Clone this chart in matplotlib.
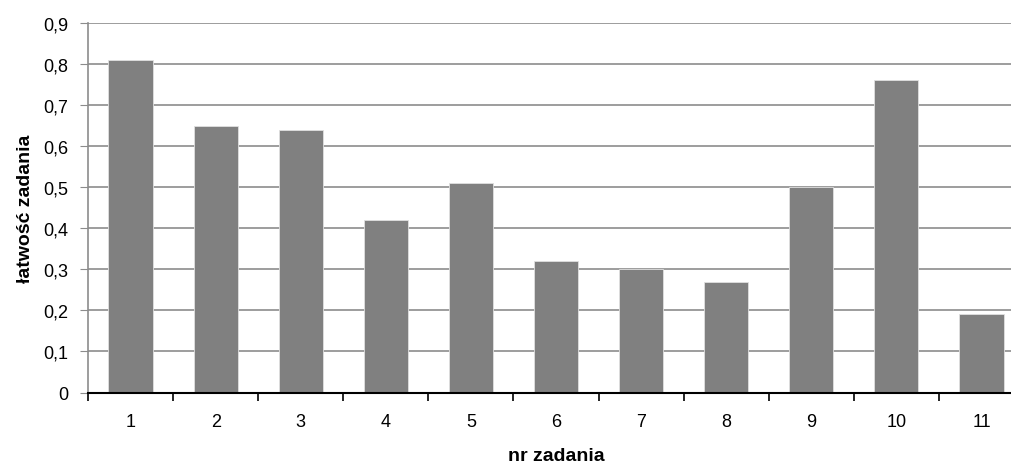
import matplotlib.pyplot as plt
from matplotlib.ticker import FixedLocator

plt.rcParams['font.family'] = ['Liberation Sans', 'DejaVu Sans']

zadania = ["1", "2", "3", "4", "5", "6", "7", "8", "9", "10", "11"]
latwosc = [0.81, 0.65, 0.64, 0.42, 0.51, 0.32, 0.30, 0.27, 0.50, 0.76, 0.19]
y_ticks = [0, 0.1, 0.2, 0.3, 0.4, 0.5, 0.6, 0.7, 0.8, 0.9]
y_labels = ["0", "0,1", "0,2", "0,3", "0,4", "0,5", "0,6", "0,7", "0,8", "0,9"]

fig = plt.figure(figsize=(10.12, 4.64), dpi=100)
# plot area runs a little past the right edge, like the cropped original
ax = fig.add_axes([88 / 1012, 1 - 393.5 / 464, 936 / 1012, 369.5 / 464])

pos = list(range(len(zadania)))
ax.bar(pos, latwosc, width=0.52, color="#808080", edgecolor="#e0e0e0", linewidth=0.6, zorder=3)

ax.set_xlim(-0.5, len(zadania) - 0.5)
ax.set_ylim(0, 0.9)

ax.set_yticks(y_ticks)
ax.set_yticklabels(y_labels, fontsize=13)
ax.yaxis.grid(True, color="#8c8c8c", linewidth=1.2, zorder=0)
ax.tick_params(axis="y", direction="out", length=6, color="#8c8c8c", pad=8)

ax.set_xticks(pos)
ax.set_xticklabels(zadania, fontsize=13)
ax.tick_params(axis="x", which="major", length=0, pad=15)
ax.xaxis.set_minor_locator(FixedLocator([p - 0.5 for p in pos] + [len(zadania) - 0.5]))
ax.tick_params(axis="x", which="minor", direction="out", length=6, width=1.2, color="black")

for s in ["top", "right"]:
    ax.spines[s].set_visible(False)
ax.spines["left"].set_color("#8c8c8c")
ax.spines["left"].set_linewidth(1.2)
ax.spines["bottom"].set_color("black")
ax.spines["bottom"].set_linewidth(1.5)
ax.spines["bottom"].set_zorder(4)

ax.set_xlabel("nr zadania", fontsize=14, fontweight="bold", labelpad=12)
ax.set_ylabel("łatwość zadania", fontsize=14, fontweight="bold", labelpad=7)

fig.savefig("out.png", dpi=100)
